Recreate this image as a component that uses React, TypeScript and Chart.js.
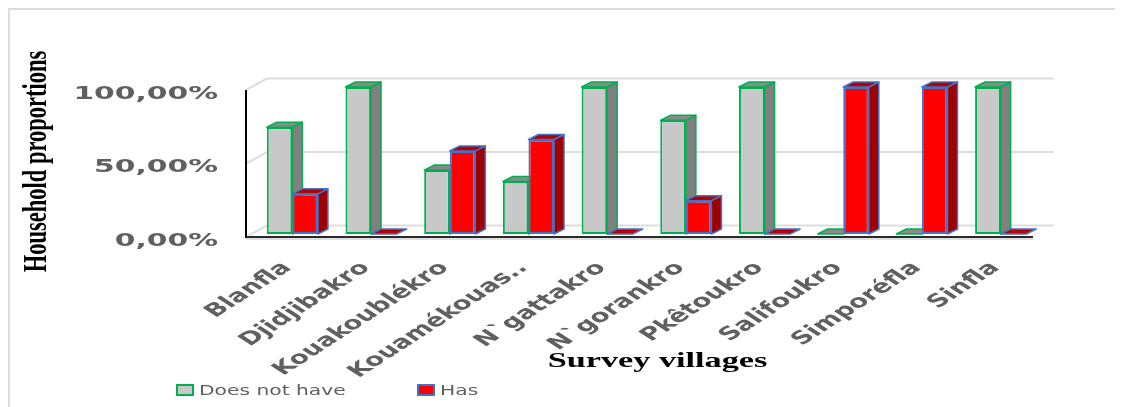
import { useEffect, useRef } from 'react';
import { Chart, registerables } from 'chart.js';

Chart.register(...registerables);

// Survey villages (category axis)
const villages = [
  'Blanfla',
  'Djidjibakro',
  'Kouakoublékro',
  'Kouamékouas..',
  'N`gattakro',
  'N`gorankro',
  'Pkêtoukro',
  'Salifoukro',
  'Simporéfla',
  'Sinfla',
];

// Household proportions, in percent
const doesNotHave = [72.7, 100, 43.5, 35.7, 100, 77.3, 100, 0, 0, 100];
const has = [27.3, 0, 56.5, 64.3, 0, 22.7, 0, 100, 100, 0];

const seriesNames = ['Does not have', 'Has'];
const yTickValues = [0, 50, 100];

const yTitle = 'Household proportions';
const xTitle = 'Survey villages';

const formatPct = (v: number) => v.toFixed(2).replace('.', ',') + '%';

// Face colours for the pseudo-3D columns
const faces = [
  { front: '#c8c8c8', side: '#808080', top: '#8a8a8a', edge: '#00b050' },
  { front: '#ff0000', side: '#a00000', top: '#b40000', edge: '#4472c4' },
];

// Depth of one column and of the plot box
const DEPTH_X = 10;
const DEPTH_Y = 5;
const FRONT_X = -7;
const FRONT_Y = 3;
const BACK_X = 14;
const BACK_Y = -8.5;

const TEXT_GREY = '#606060';

function drawText(
  ctx: CanvasRenderingContext2D,
  text: string,
  x: number,
  y: number,
  font: string,
  color: string,
  sx: number,
  rot: number,
  align: CanvasTextAlign,
  baseline: CanvasTextBaseline
) {
  ctx.save();
  ctx.translate(x, y);
  ctx.scale(sx, 1);
  ctx.rotate(rot);
  ctx.font = font;
  ctx.fillStyle = color;
  ctx.textAlign = align;
  ctx.textBaseline = baseline;
  ctx.fillText(text, 0, 0);
  ctx.restore();
}

function poly(ctx: CanvasRenderingContext2D, pts: number[][], fill: string, stroke: string, lw: number) {
  ctx.beginPath();
  ctx.moveTo(pts[0][0], pts[0][1]);
  for (let i = 1; i < pts.length; i++) ctx.lineTo(pts[i][0], pts[i][1]);
  ctx.closePath();
  ctx.fillStyle = fill;
  ctx.fill();
  ctx.strokeStyle = stroke;
  ctx.lineWidth = lw;
  ctx.lineJoin = 'round';
  ctx.stroke();
}

const bar3dPlugin = {
  id: 'bar3d',
  beforeDatasetsDraw(chart: any) {
    const { ctx, chartArea } = chart;
    const y = chart.scales.y;
    const { left, right } = chartArea;

    // back wall grid lines with side-wall diagonals
    ctx.save();
    ctx.strokeStyle = '#dedede';
    ctx.lineWidth = 2;
    for (const v of yTickValues) {
      const py = y.getPixelForValue(v);
      ctx.beginPath();
      ctx.moveTo(left + FRONT_X, py + FRONT_Y);
      ctx.lineTo(left + BACK_X, py + BACK_Y);
      ctx.lineTo(right + BACK_X, py + BACK_Y);
      ctx.stroke();
    }
    ctx.restore();

    // side and top faces of each column
    ctx.save();
    chart.data.datasets.forEach((_: any, di: number) => {
      const meta = chart.getDatasetMeta(di);
      const f = faces[di];
      meta.data.forEach((bar: any) => {
        const p = bar.getProps(['x', 'y', 'base', 'width'], true);
        const l = p.x - p.width / 2;
        const r = p.x + p.width / 2;
        const top = Math.min(p.y, p.base);
        const base = Math.max(p.y, p.base);
        if (base - top > 0.5) {
          poly(
            ctx,
            [
              [r, top],
              [r + DEPTH_X, top - DEPTH_Y],
              [r + DEPTH_X, base - DEPTH_Y],
              [r, base],
            ],
            f.side,
            f.edge,
            1.5
          );
        }
        poly(
          ctx,
          [
            [l, top],
            [l + DEPTH_X, top - DEPTH_Y],
            [r + DEPTH_X, top - DEPTH_Y],
            [r, top],
          ],
          f.top,
          f.edge,
          1.5
        );
      });
    });
    ctx.restore();
  },
  afterDatasetsDraw(chart: any) {
    const { ctx, chartArea } = chart;
    const y = chart.scales.y;
    const { left, right } = chartArea;
    const y0 = y.getPixelForValue(0) + FRONT_Y;
    const y1 = y.getPixelForValue(100) + FRONT_Y;
    ctx.save();
    // floor edge
    ctx.strokeStyle = '#c0c0c0';
    ctx.lineWidth = 1;
    ctx.beginPath();
    ctx.moveTo(left + FRONT_X, y0 + 2);
    ctx.lineTo(right + FRONT_X, y0 + 2);
    ctx.stroke();
    ctx.strokeStyle = '#2a2a2a';
    ctx.lineWidth = 2;
    ctx.beginPath();
    ctx.moveTo(left + FRONT_X, y0);
    ctx.lineTo(right + FRONT_X, y0);
    ctx.stroke();
    // value axis line
    ctx.strokeStyle = '#000000';
    ctx.beginPath();
    ctx.moveTo(left + FRONT_X, y1);
    ctx.lineTo(left + FRONT_X, y0 + 1);
    ctx.stroke();
    ctx.restore();
  },
  afterDraw(chart: any) {
    const { ctx, chartArea } = chart;
    const x = chart.scales.x;
    const y = chart.scales.y;

    // value tick labels
    for (const v of yTickValues) {
      drawText(
        ctx,
        formatPct(v),
        chartArea.left - 35,
        y.getPixelForValue(v) + 11.5,
        'bold 17px "DejaVu Sans"',
        TEXT_GREY,
        1.75,
        0,
        'right',
        'alphabetic'
      );
    }

    // category labels, rotated
    villages.forEach((name, i) => {
      drawText(
        ctx,
        name,
        x.getPixelForValue(i),
        chartArea.bottom + 34.5,
        'bold 18px "DejaVu Sans"',
        TEXT_GREY,
        1.55,
        -Math.PI / 4,
        'right',
        'alphabetic'
      );
    });

    // axis titles
    drawText(ctx, yTitle, 36, (chartArea.top + chartArea.bottom) / 2 + 1, 'bold 22.5px "Liberation Serif"', '#000000', 1.5, -Math.PI / 2, 'center', 'alphabetic');
    drawText(ctx, xTitle, 647.5, 356.5, 'bold 21px "Liberation Serif"', '#000000', 1.63, 0, 'center', 'alphabetic');

    // legend
    const legendItems = [
      { x: 167, textX: 189 },
      { x: 408, textX: 430 },
    ];
    legendItems.forEach((item, i) => {
      ctx.save();
      ctx.fillStyle = faces[i].front;
      ctx.strokeStyle = faces[i].edge;
      ctx.lineWidth = 2;
      ctx.fillRect(item.x, 375, 16, 10);
      ctx.strokeRect(item.x, 375, 16, 10);
      ctx.restore();
      drawText(ctx, seriesNames[i], item.textX, 385, '13.5px "DejaVu Sans"', TEXT_GREY, 1.5, 0, 'left', 'alphabetic');
    });
  },
};

export default function App() {
  const canvasRef = useRef<HTMLCanvasElement | null>(null);

  useEffect(() => {
    document.documentElement.style.overflow = 'hidden';
    const canvas = canvasRef.current;
    if (!canvas) return;
    const chart = new Chart(canvas, {
      type: 'bar',
      data: {
        labels: villages,
        datasets: [
          {
            label: seriesNames[0],
            data: doesNotHave,
            backgroundColor: faces[0].front,
            borderColor: faces[0].edge,
            borderWidth: 2,
            borderSkipped: false,
            barPercentage: 1,
            categoryPercentage: 0.65,
          },
          {
            label: seriesNames[1],
            data: has,
            backgroundColor: faces[1].front,
            borderColor: faces[1].edge,
            borderWidth: 2,
            borderSkipped: false,
            barPercentage: 1,
            categoryPercentage: 0.65,
          },
        ],
      },
      options: {
        responsive: false,
        animation: false,
        devicePixelRatio: 1,
        layout: { padding: { left: 243, right: 83, top: 77, bottom: 173 } },
        scales: {
          x: { display: false },
          y: { display: false, min: 0, max: 100 },
        },
        plugins: {
          legend: { display: false },
          tooltip: { enabled: false },
        },
      },
      plugins: [bar3dPlugin],
    });
    return () => chart.destroy();
  }, []);

  return (
    <div
      style={{
        width: 1115,
        height: 399,
        boxSizing: 'border-box',
        borderLeft: '2px solid #dcdcdc',
        borderTop: '2px solid #dcdcdc',
        background: '#ffffff',
      }}
    >
      <canvas ref={canvasRef} width={1113} height={397} style={{ display: 'block', width: 1113, height: 397 }} />
    </div>
  );
}
